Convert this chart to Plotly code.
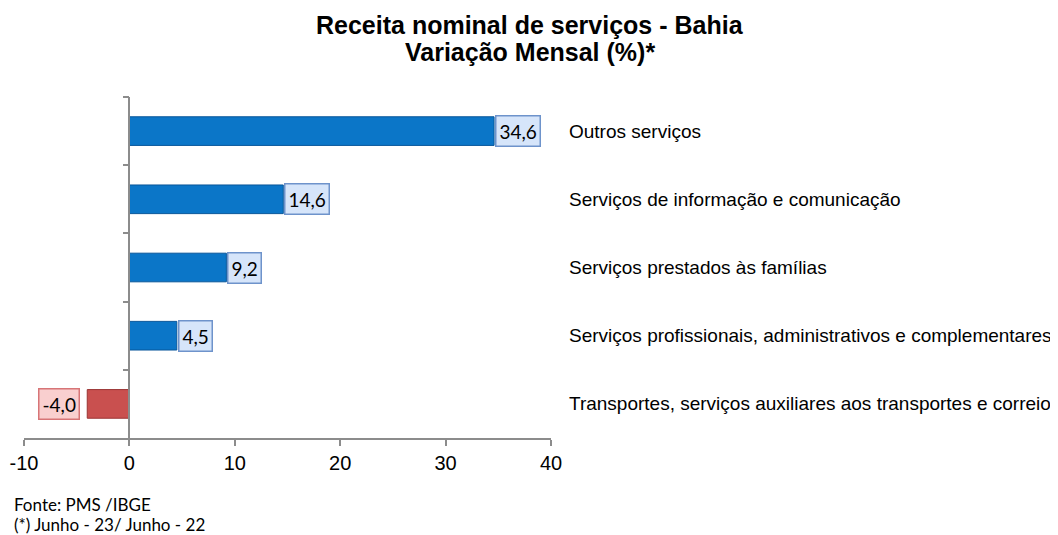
import plotly.graph_objects as go

categories = [
    "Outros serviços",
    "Serviços de informação e comunicação",
    "Serviços prestados às famílias",
    "Serviços profissionais, administrativos e complementares",
    "Transportes, serviços auxiliares aos transportes e correio",
]
values = [34.6, 14.6, 9.2, 4.5, -4.0]
x_ticks = [-10, 0, 10, 20, 30, 40]
title_lines = ["Receita nominal de serviços - Bahia", "Variação Mensal (%)*"]
footnotes = ["Fonte: PMS /IBGE", "(*) Junho - 23/ Junho - 22"]

bar_colors = ["#0B76C8" if v >= 0 else "#C9504F" for v in values]
line_colors = ["#08569A" if v >= 0 else "#9A3433" for v in values]

fig = go.Figure()
fig.add_trace(go.Bar(
    x=values, y=categories, orientation="h",
    marker=dict(color=bar_colors, line=dict(color=line_colors, width=1)),
    hoverinfo="skip", showlegend=False,
))

annotations = []
for cat, v in zip(categories, values):
    txt = f"{v:.1f}".replace(".", ",")
    pos = v >= 0
    annotations.append(dict(
        x=v, y=cat, xref="x", yref="y", text=txt, showarrow=False,
        xanchor="left" if pos else "right", xshift=1 if pos else -7,
        font=dict(family="Lato, Open Sans, sans-serif", size=19, color="#000"),
        bgcolor="#D6E5FA" if pos else "#F9CFCF",
        bordercolor="#6E93CB" if pos else "#D77577", borderwidth=1.5, borderpad=3,
    ))
    annotations.append(dict(
        x=1.0304, y=cat, xref="paper", yref="y", text=cat, showarrow=False,
        xanchor="left", yanchor="middle",
        font=dict(family="Liberation Sans, Arial, sans-serif", size=19, color="#000"),
    ))

for i, line in enumerate(title_lines):
    annotations.append(dict(
        x=0.960, y=[1.2111, 1.132][i], xref="paper", yref="paper",
        text="<b>" + line + "</b>", showarrow=False,
        xanchor="center", yanchor="middle",
        font=dict(family="Liberation Sans, Arial, sans-serif", size=25, color="#000"),
    ))

for i, line in enumerate(footnotes):
    annotations.append(dict(
        x=-0.0228, y=[-0.196, -0.255][i], xref="paper", yref="paper", text=line,
        showarrow=False, xanchor="left", yanchor="middle",
        font=dict(family="Lato, Open Sans, sans-serif", size=17, color="#000")))

fig.update_layout(
    width=1050, height=527,
    margin=dict(l=16, r=507, t=89, b=97, autoexpand=False),
    paper_bgcolor="white", plot_bgcolor="white",
    bargap=0.58,
    xaxis=dict(
        range=[-10, 40], tickvals=x_ticks, ticktext=[str(t) for t in x_ticks],
        automargin=False,
        showgrid=False, zeroline=False, showline=True, linecolor="#8C8C8C", linewidth=1.5,
        ticks="outside", ticklen=6, tickcolor="#8C8C8C", tickwidth=1.5,
        tickfont=dict(family="Liberation Sans, Arial, sans-serif", size=20, color="#000"),
        fixedrange=True,
    ),
    yaxis=dict(
        autorange="reversed", anchor="free", position=0.2, automargin=False,
        showgrid=False, zeroline=False, showline=True, linecolor="#8C8C8C", linewidth=1.5,
        ticks="outside", tickson="boundaries", ticklen=6, tickcolor="#8C8C8C", tickwidth=1.5,
        showticklabels=False, fixedrange=True,
    ),
    annotations=annotations,
)

fig.write_html("out.html")
